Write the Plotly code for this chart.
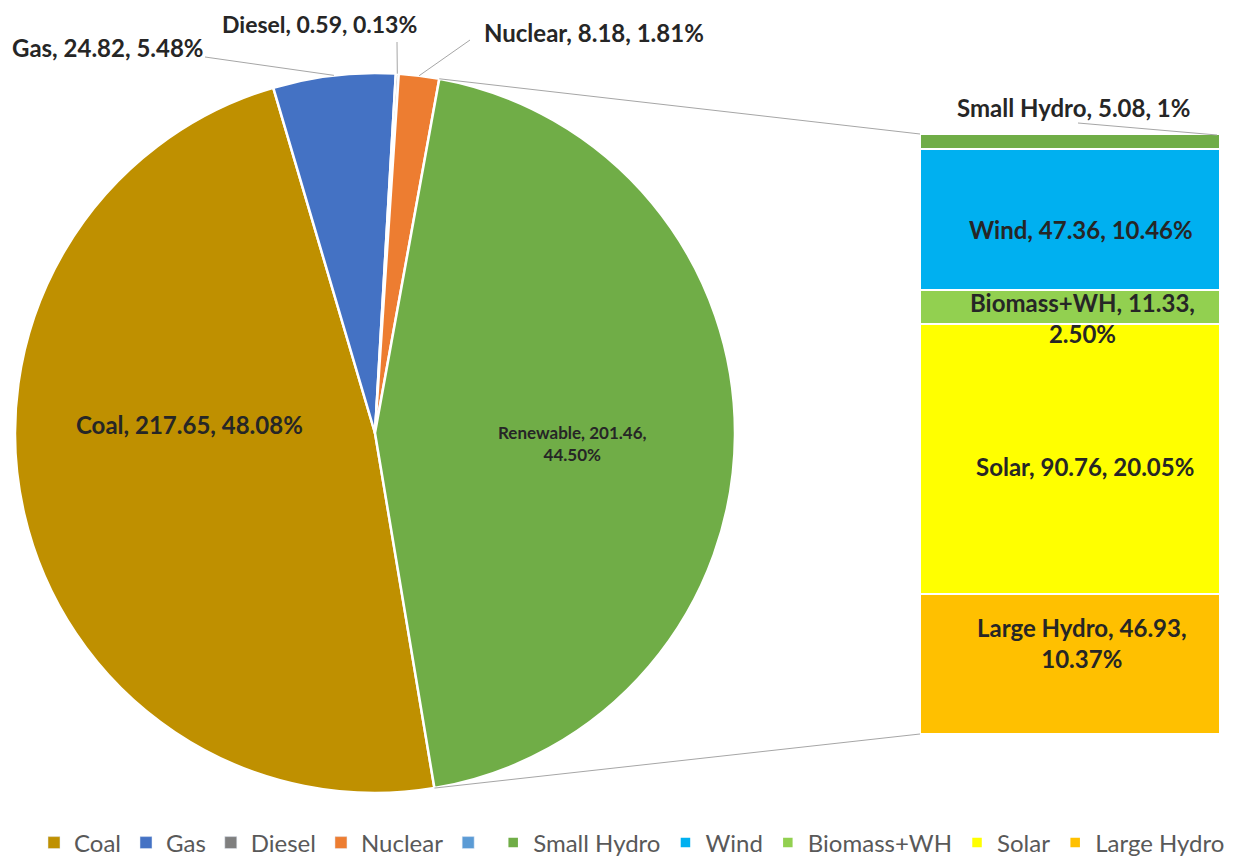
import math
import plotly.graph_objects as go

# installed capacity split (GW) - main pie
pie_labels = ["Coal", "Gas", "Diesel", "Nuclear", "Renewable"]
pie_values = [217.65, 24.82, 0.59, 8.18, 201.46]
pie_pct = ["48.08%", "5.48%", "0.13%", "1.81%", "44.50%"]
pie_colors = ["#BF9000", "#4472C4", "#A5A5A5", "#ED7D31", "#70AD47"]
legend_pie_names = ["Coal", "Gas", "Diesel", "Nuclear", ""]
legend_pie_colors = ["#BF9000", "#4472C4", "#7F7F7F", "#ED7D31", "#5B9BD5"]

# renewable breakdown - stacked bar
re_labels = ["Small Hydro", "Wind", "Biomass+WH", "Solar", "Large Hydro"]
re_values = [5.08, 47.36, 11.33, 90.76, 46.93]
re_pct = ["1%", "10.46%", "2.50%", "20.05%", "10.37%"]
re_colors = ["#70AD47", "#00B0F0", "#92D050", "#FFFF00", "#FFC000"]

# page body has an 8px margin, so the figure starts at (8, 8) in the window
OFF = 8
W, H = 1256 - 2 * OFF, 863 - OFF
FONT = "Lato"
TXT = "#262626"
LINE = "#A6A6A6"

# geometry in screen pixels
CX, CY, R = 375, 433, 360
ROT = 170.5
BAR_L, BAR_R, BAR_T, BAR_B = 920, 1220, 134, 734

total = sum(pie_values)
re_total = sum(re_values)


def px(x, y):
    return (x - OFF) / W, 1 - (y - OFF) / H


def arc_pt(frac):
    a = math.radians(ROT + 360 * frac)
    return CX + R * math.sin(a), CY - R * math.cos(a)


def lbl(name, v, p, br=None):
    parts = [name, f"{v:.2f}", p]
    if br == 1:
        return parts[0] + ", " + parts[1] + ",<br>" + parts[2]
    return ", ".join(parts)


fig = go.Figure()
x0, y1 = px(CX - R, CY - R)
x1, y0 = px(CX + R, CY + R)
fig.add_trace(go.Pie(
    labels=pie_labels, values=pie_values, sort=False,
    direction="clockwise", rotation=ROT,
    marker=dict(colors=pie_colors, line=dict(color="white", width=2.5)),
    textinfo="none", showlegend=False,
    domain=dict(x=[x0, x1], y=[y0, y1]),
))

# legend entries for the pie (renewable shows as a blank entry)
for name, col in zip(legend_pie_names, legend_pie_colors):
    fig.add_trace(go.Bar(x=[None], y=[None], name=name, marker_color=col, showlegend=True))

for name, v, col in zip(re_labels, re_values, re_colors):
    fig.add_trace(go.Bar(
        x=[0], y=[v], name=name, width=1,
        marker=dict(color=col, line=dict(color="white", width=2.5)),
        hovertemplate=name + ": %{y}<extra></extra>",
    ))

# labels
ann = []
pie_pos = [(190, 424), (108, 47), (319, 24), (594, 33), (572, 443)]
pie_size = [24, 24, 23, 24, 17]
for i, (name, v, p) in enumerate(zip(pie_labels, pie_values, pie_pct)):
    x, y = px(*pie_pos[i])
    br = 1 if name == "Renewable" else None
    ann.append(dict(x=x, y=y, text=lbl(name, v, p, br), font=dict(size=pie_size[i])))

re_pos = [(1073, 107), (1081, 229), (1082, 318), (1085, 466), (1082, 643)]
for i, (name, v, p) in enumerate(zip(re_labels, re_values, re_pct)):
    x, y = px(*re_pos[i])
    br = 1 if name in ("Biomass+WH", "Large Hydro") else None
    ann.append(dict(x=x, y=y, text=lbl(name, v, p, br), font=dict(size=24)))

for a in ann:
    a.update(xref="paper", yref="paper", showarrow=False, xanchor="center", yanchor="middle")
    a["font"].update(family=FONT, color=TXT, weight="bold")

# leader lines and connectors
cum = [sum(pie_values[:i]) for i in range(len(pie_values))]
mid = [(c + v / 2) / total for c, v in zip(cum, pie_values)]
segs = [
    ((205, 57), arc_pt(mid[1])),
    ((397, 42), arc_pt(mid[2])),
    ((470, 40), arc_pt(mid[3])),
    ((1078, 123), (BAR_R - 3, BAR_T + 1)),
    (arc_pt(cum[4] / total), (BAR_L, BAR_T)),
    (arc_pt(1.0), (BAR_L, BAR_B)),
]
shapes = []
for (sx0, sy0), (sx1, sy1) in segs:
    a0, b0 = px(sx0, sy0)
    a1, b1 = px(sx1, sy1)
    shapes.append(dict(type="line", xref="paper", yref="paper", x0=a0, y0=b0, x1=a1, y1=b1,
                       line=dict(color=LINE, width=1)))

bl, bb = px(BAR_L, BAR_B)
br_, bt = px(BAR_R, BAR_T)
lx, ly = px(632, 843)
fig.update_layout(
    width=W, height=H,
    margin=dict(l=0, r=0, t=0, b=0, autoexpand=False),
    paper_bgcolor="white", plot_bgcolor="white",
    barmode="stack", bargap=0,
    xaxis=dict(domain=[bl, br_], range=[-0.5, 0.5], visible=False, fixedrange=True),
    yaxis=dict(domain=[bb, bt], range=[re_total, 0], visible=False, fixedrange=True),
    annotations=ann, shapes=shapes,
    legend=dict(orientation="h", x=lx, xanchor="center", y=ly, yanchor="middle",
                traceorder="normal", font=dict(family=FONT, size=24, color="#595959"),
                bgcolor="rgba(0,0,0,0)"),
    font=dict(family=FONT),
)

fig.write_html("out.html")
